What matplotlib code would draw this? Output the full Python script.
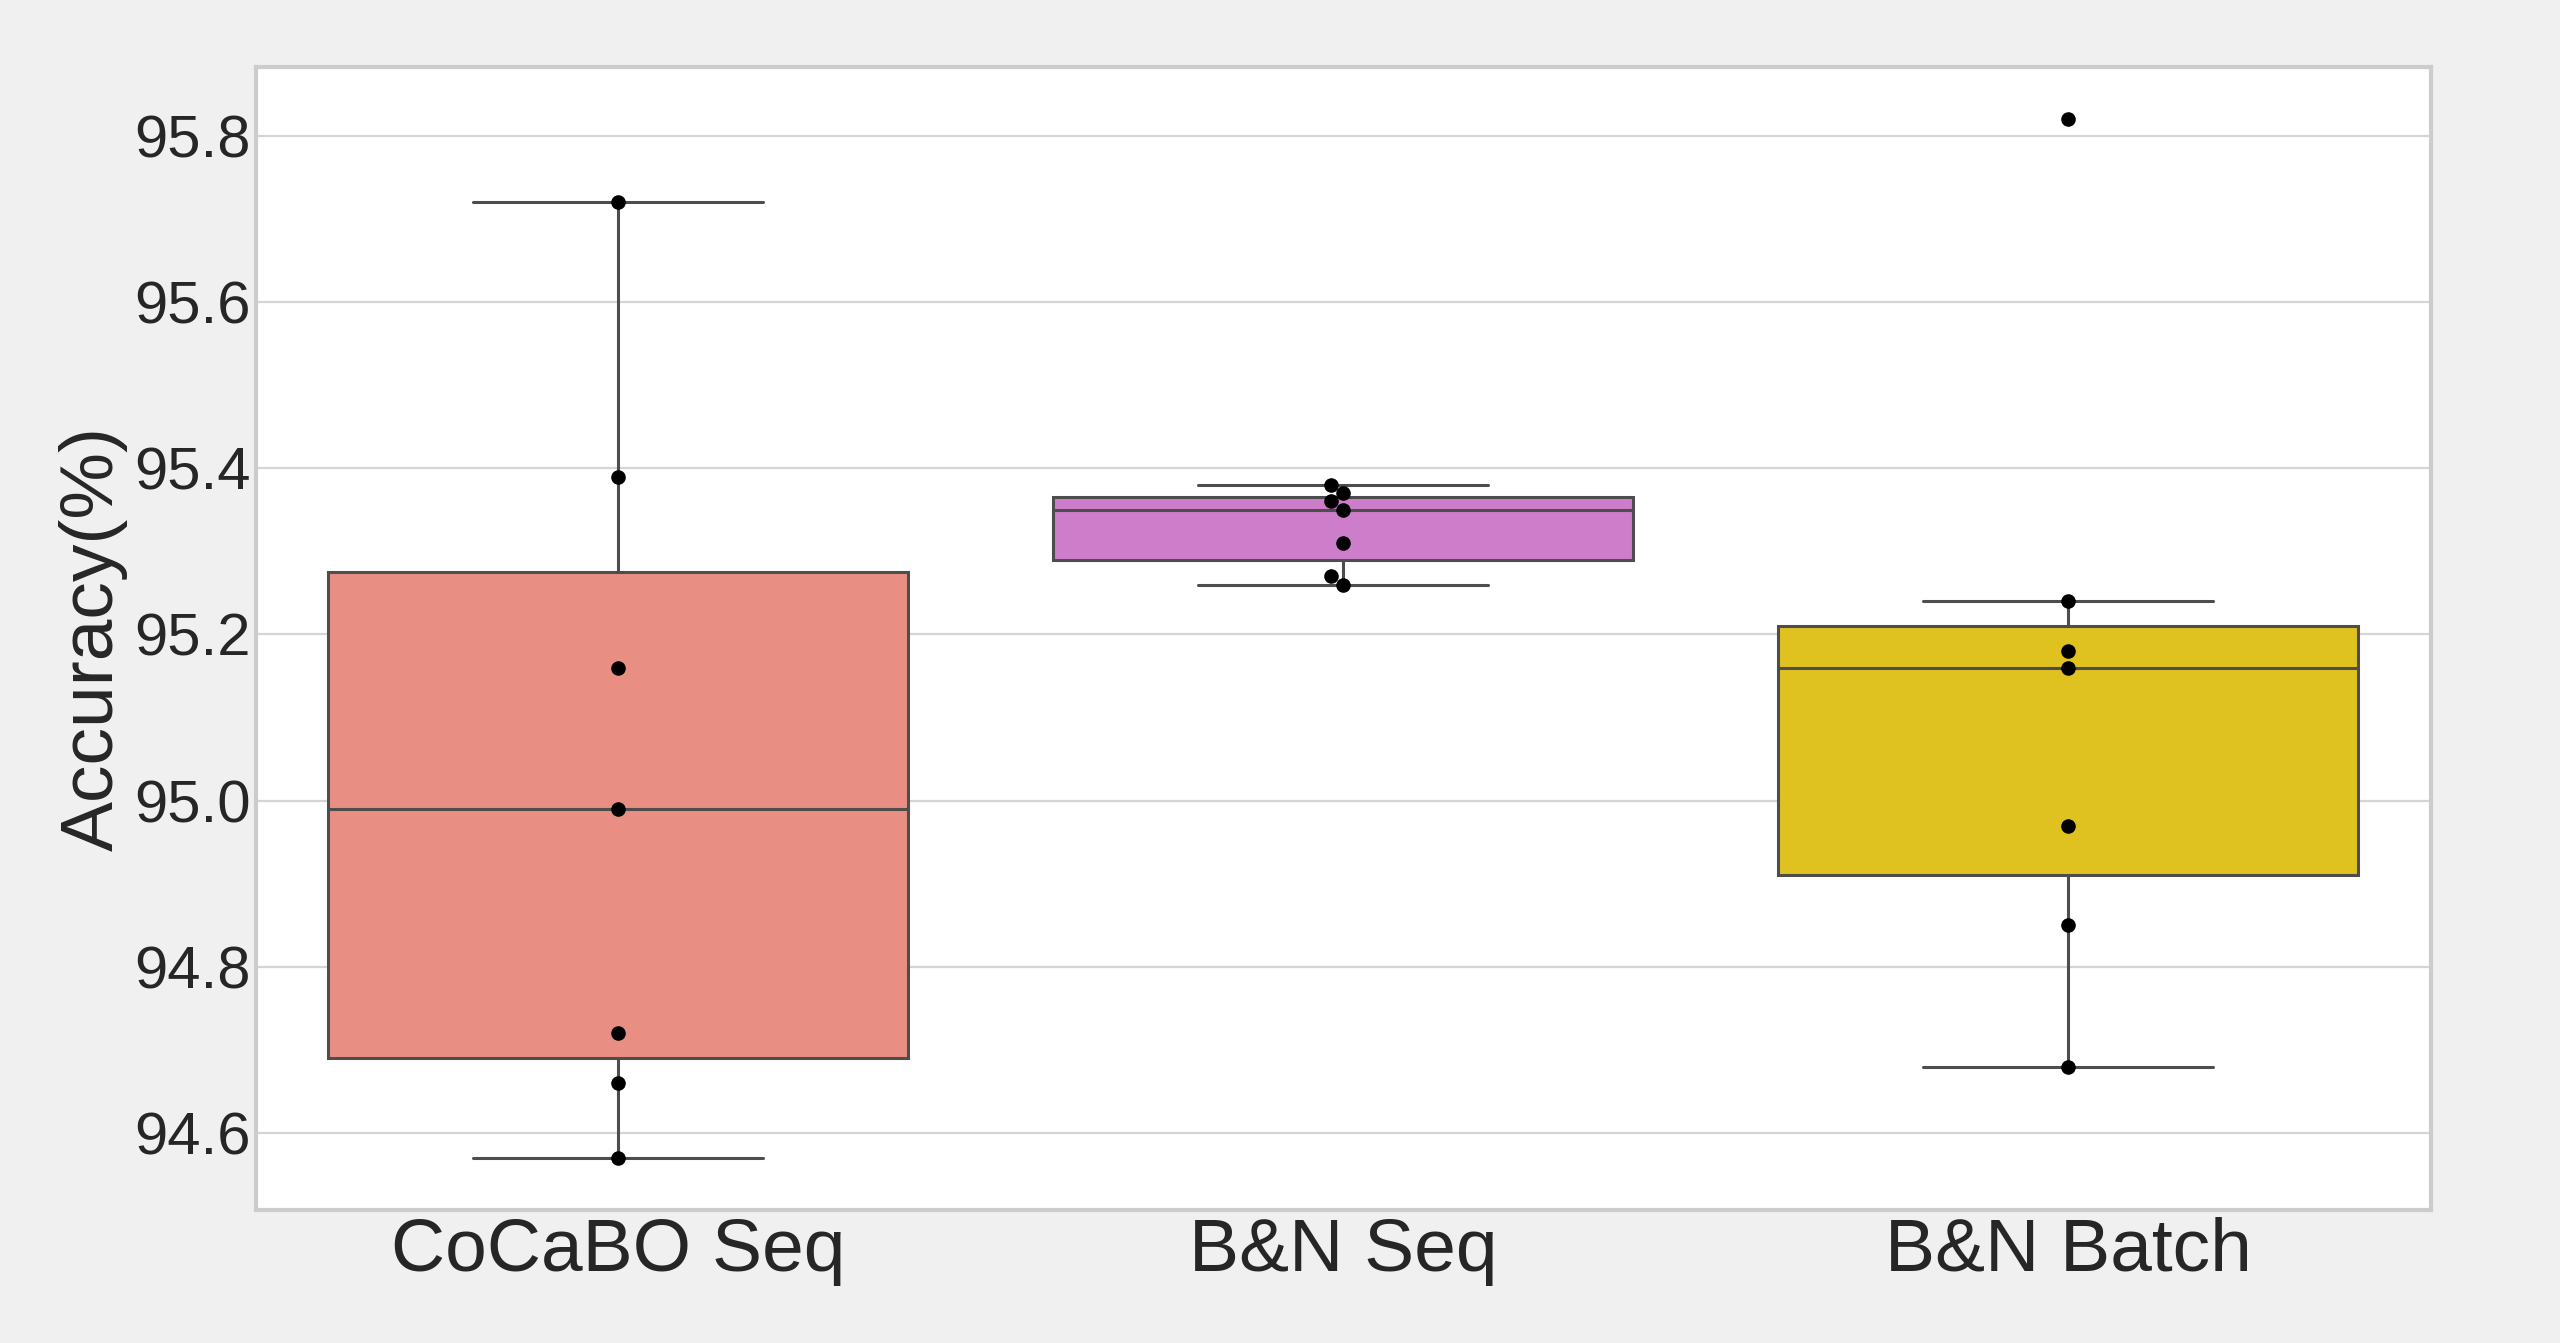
import matplotlib
matplotlib.use("Agg")
import matplotlib.pyplot as plt
import pandas as pd
import seaborn as sns

# accuracy of each run
cocabo_seq = [95.72, 95.39, 95.16, 94.99, 94.72, 94.66, 94.57]
bn_seq = [95.38, 95.37, 95.36, 95.35, 95.31, 95.27, 95.26]
bn_batch = [95.82, 95.24, 95.18, 95.16, 94.97, 94.85, 94.68]

methods = ["CoCaBO Seq", "B&N Seq", "B&N Batch"]
colors = ["salmon", "orchid", "gold"]

ylabel = "Accuracy(%)"

df = pd.DataFrame({
    "method": [methods[0]] * len(cocabo_seq) + [methods[1]] * len(bn_seq) + [methods[2]] * len(bn_batch),
    "acc": cocabo_seq + bn_seq + bn_batch,
})

sns.set_style("whitegrid")
plt.rcParams['font.family'] = ['Liberation Sans', 'DejaVu Sans']

fig = plt.figure(figsize=(25.6, 13.43), dpi=100, facecolor="#f0f0f0")
ax = fig.add_axes([0.100, 0.099, 0.8496, 0.851])

sns.boxplot(data=df, x="method", y="acc", order=methods, hue="method", palette=colors,
            legend=False, showfliers=False, linewidth=2.2, linecolor="#4d4d4d",
            width=0.8, ax=ax)
sns.swarmplot(data=df, x="method", y="acc", order=methods, color="black", size=10.5, ax=ax)

ax.set_xlabel("")
ax.set_ylabel(ylabel, fontsize=54, color="#262626", labelpad=4)
ax.tick_params(axis="y", labelsize=43, colors="#262626", length=0, pad=4)
ax.tick_params(axis="x", labelsize=54, colors="#262626", length=0, pad=5)

ax.xaxis.grid(False)
ax.yaxis.grid(True, color="#d5d5d5", linewidth=1.6)
ax.set_axisbelow(True)
for s in ax.spines.values():
    s.set_color("#cccccc")
    s.set_linewidth(3)

fig.savefig("out.png", facecolor=fig.get_facecolor())
